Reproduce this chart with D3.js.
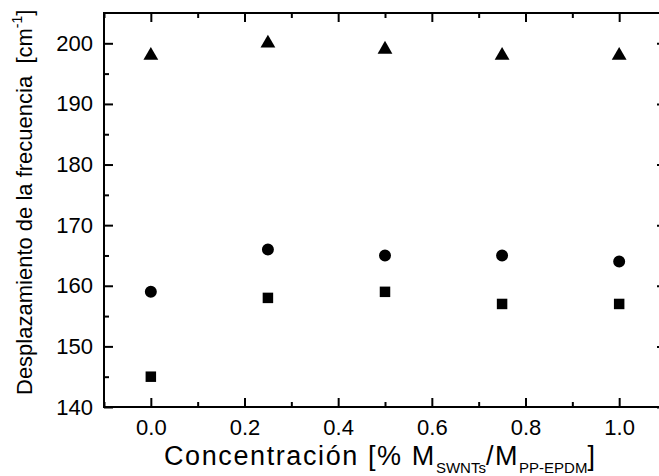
<!DOCTYPE html>
<html><head><meta charset="utf-8">
<script src="https://cdn.jsdelivr.net/npm/d3@7"></script>
<style>
body{margin:0;background:#fff;}
svg{display:block;font-family:"Liberation Sans",Arial,Helvetica,sans-serif;}
</style></head>
<body><svg id="c" width="659" height="476"></svg>
<script>
const concentrations = [0.0, 0.25, 0.5, 0.75, 1.0];
const triangleValues = [198, 200, 199, 198, 198];
const circleValues   = [159, 166, 165, 165, 164];
const squareValues   = [145, 158, 159, 157, 157];
const xMajorTicks = [0.0, 0.2, 0.4, 0.6, 0.8, 1.0];
const xMinorTicks = [-0.1, 0.1, 0.3, 0.5, 0.7, 0.9];
const yMajorTicks = [140, 150, 160, 170, 180, 190, 200];
const yMinorTicks = [145, 155, 165, 175, 185, 195];

const svg = d3.select("#c");
const L = 104, R = 666, T = 13, B = 407;
const x = d3.scaleLinear().domain([-0.1, 1.1]).range([L, R]);
const y = d3.scaleLinear().domain([140, 205]).range([B, T]);

function styleAxis(g){
  g.attr("font-size",22).attr("font-family","'Liberation Sans',Arial,sans-serif");
  g.select(".domain").remove();
  g.selectAll(".tick line").attr("stroke","#000").attr("stroke-width",2);
  g.selectAll(".tick text").attr("fill","#000");
}
// bottom
svg.append("g").attr("transform",`translate(0,${B})`)
  .call(d3.axisBottom(x).tickValues(xMajorTicks).tickSizeInner(-9).tickSizeOuter(0).tickPadding(12).tickFormat(d3.format(".1f")))
  .call(styleAxis);
svg.append("g").attr("transform",`translate(0,${B})`)
  .call(d3.axisBottom(x).tickValues(xMinorTicks).tickSizeInner(-5).tickSizeOuter(0).tickFormat(""))
  .call(styleAxis);
// top
svg.append("g").attr("transform",`translate(0,${T})`)
  .call(d3.axisTop(x).tickValues(xMajorTicks).tickSizeInner(-9).tickSizeOuter(0).tickFormat(""))
  .call(styleAxis);
svg.append("g").attr("transform",`translate(0,${T})`)
  .call(d3.axisTop(x).tickValues(xMinorTicks).tickSizeInner(-5).tickSizeOuter(0).tickFormat(""))
  .call(styleAxis);
// left
svg.append("g").attr("transform",`translate(${L},0)`)
  .call(d3.axisLeft(y).tickValues(yMajorTicks).tickSizeInner(-9).tickSizeOuter(0).tickPadding(11).tickFormat(d3.format("d")))
  .call(styleAxis);
svg.append("g").attr("transform",`translate(${L},0)`)
  .call(d3.axisLeft(y).tickValues(yMinorTicks).tickSizeInner(-5).tickSizeOuter(0).tickFormat(""))
  .call(styleAxis);
// right
svg.append("g").attr("transform",`translate(${R},0)`)
  .call(d3.axisRight(y).tickValues(yMajorTicks).tickSizeInner(-9).tickSizeOuter(0).tickFormat(""))
  .call(styleAxis);
svg.append("g").attr("transform",`translate(${R},0)`)
  .call(d3.axisRight(y).tickValues(yMinorTicks).tickSizeInner(-5).tickSizeOuter(0).tickFormat(""))
  .call(styleAxis);
// frame
svg.append("rect").attr("x",L).attr("y",T).attr("width",R-L).attr("height",B-T)
  .attr("fill","none").attr("stroke","#000").attr("stroke-width",2);

// markers
const tri = d3.symbol().type(d3.symbolTriangle).size(95);
const cir = d3.symbol().type(d3.symbolCircle).size(113);
const sq  = d3.symbol().type(d3.symbolSquare).size(110);
function plot(vals, sym){
  svg.append("g").selectAll("path").data(vals).join("path")
    .attr("d", sym)
    .attr("transform",(d,i)=>`translate(${x(concentrations[i])},${y(d)})`)
    .attr("fill","#000");
}
plot(triangleValues, tri);
plot(circleValues, cir);
plot(squareValues, sq);

// x label
const xl = svg.append("text").attr("x",164).attr("y",465).attr("font-size",27)
  .attr("letter-spacing",1.6).attr("fill","#000").style("white-space","pre");
xl.append("tspan").text("Concentración [% M");
xl.append("tspan").attr("font-size",15).attr("letter-spacing",0).attr("dy",8).text("SWNTs");
xl.append("tspan").attr("dy",-8).text("/M");
xl.append("tspan").attr("font-size",15).attr("letter-spacing",0).attr("dy",8).text("PP-EPDM");
xl.append("tspan").attr("dy",-8).text("]");

// y label
const yl = svg.append("text").attr("transform","translate(32,395) rotate(-90)")
  .attr("font-size",22).attr("fill","#000").style("white-space","pre");
yl.append("tspan").text("Desplazamiento de la frecuencia  [cm");
yl.append("tspan").attr("font-size",14).attr("dy",-10).text("-1");
yl.append("tspan").attr("dy",10).text("]");
</script></body></html>
